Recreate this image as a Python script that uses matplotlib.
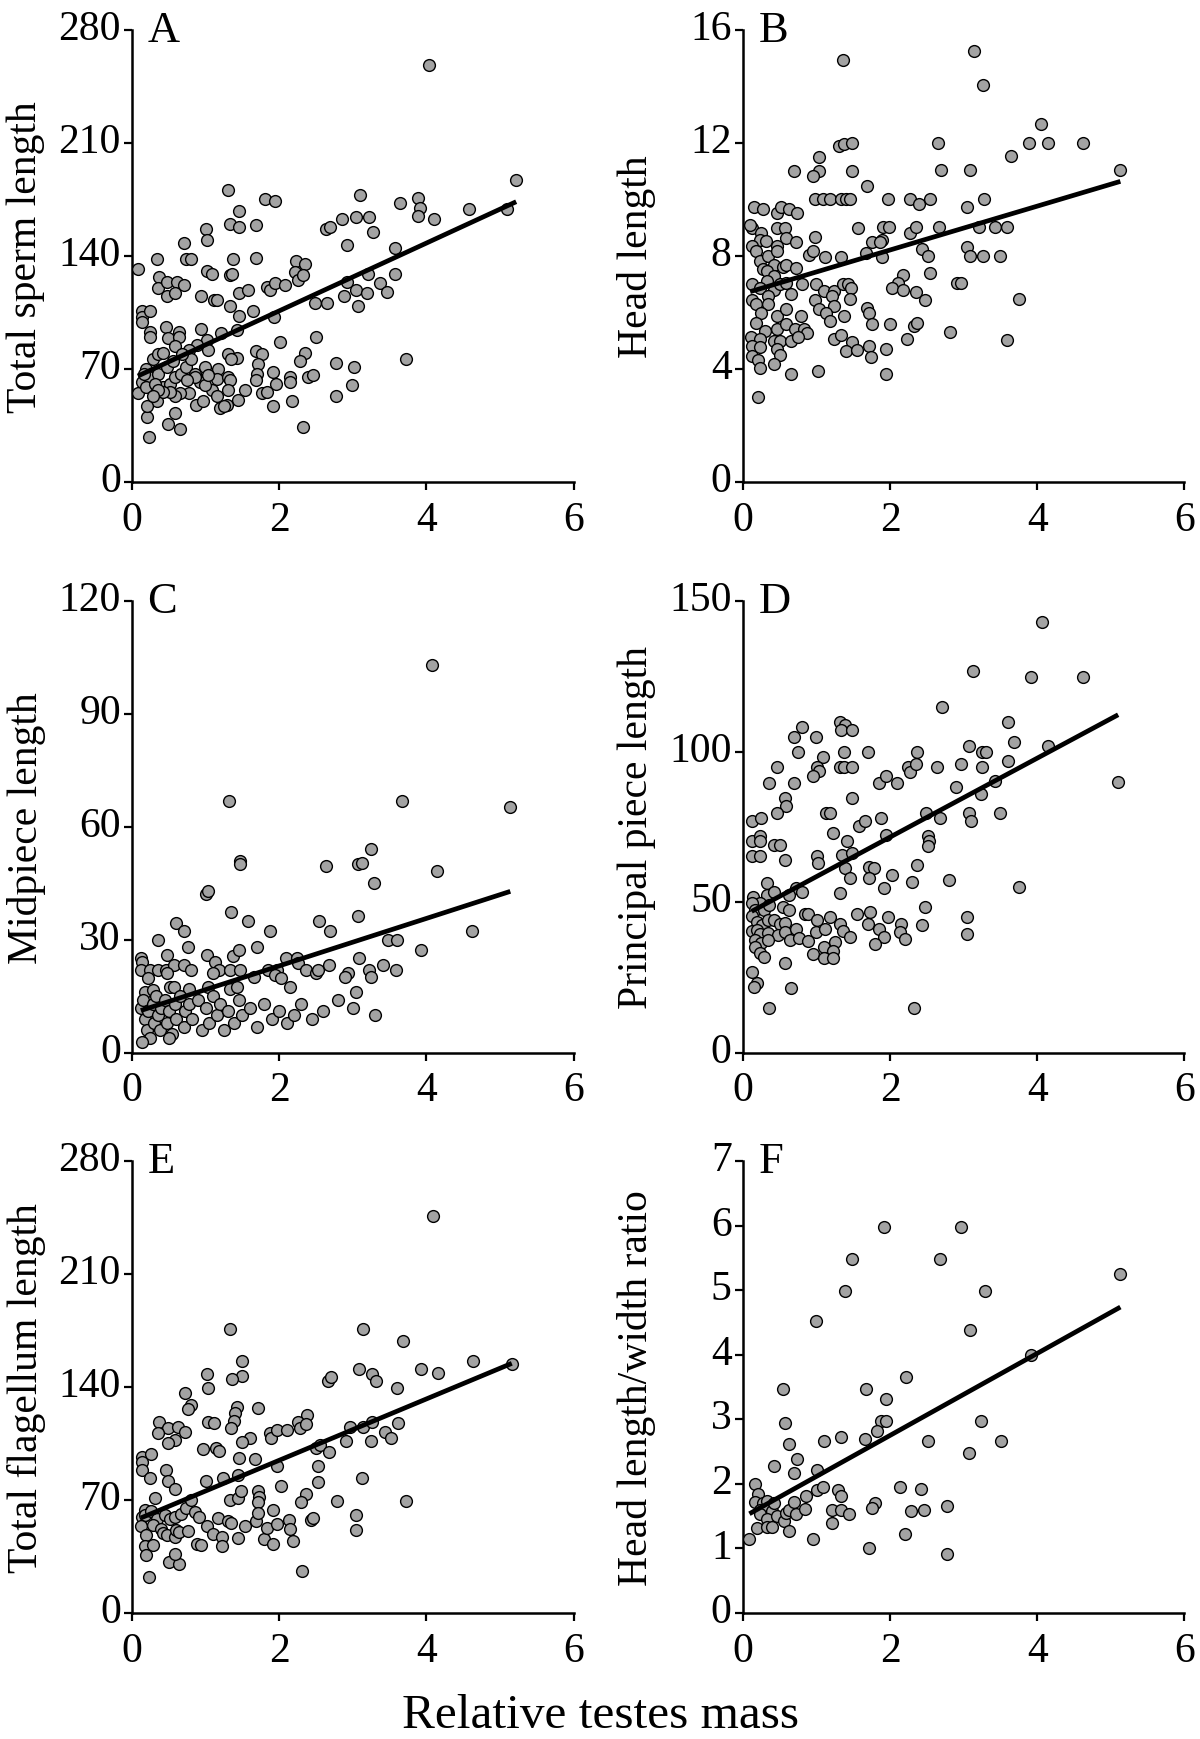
import matplotlib

matplotlib.use("Agg")
import matplotlib.pyplot as plt
import matplotlib.transforms as mtransforms
import numpy as np

# (relative testes mass, trait) pairs
a_pts = [
    (4.04, 258), (1.31, 181), (1.81, 175), (1.94, 174), (3.10, 178), (3.64, 173), (5.22, 187),
    (3.89, 176), (3.91, 170), (3.89, 165), (4.58, 169), (5.09, 169), (4.11, 163), (1.46, 168),
    (1.00, 157), (1.02, 150), (1.33, 160), (1.46, 158), (1.69, 159), (2.63, 157), (2.69, 158),
    (2.85, 163), (3.04, 164), (3.22, 164), (3.27, 155), (2.92, 147), (3.57, 145), (0.71, 148),
    (0.34, 138), (0.73, 138), (0.80, 138), (1.37, 138), (1.69, 139), (0.08, 132), (1.02, 131),
    (1.09, 129), (1.33, 128), (1.36, 129), (2.23, 137), (2.35, 135), (2.22, 130), (2.25, 125),
    (2.32, 128), (0.37, 127), (0.35, 120), (0.48, 124), (0.61, 124), (0.71, 122), (0.47, 115),
    (0.59, 117), (0.94, 115), (1.11, 113), (1.15, 113), (1.46, 117), (1.57, 119), (1.33, 109),
    (1.64, 106), (1.45, 103), (1.83, 121), (1.87, 119), (1.94, 123), (2.08, 122), (1.93, 102),
    (2.48, 111), (2.65, 111), (2.88, 115), (2.92, 124), (3.05, 119), (3.07, 109), (3.19, 117),
    (3.20, 129), (3.37, 123), (3.46, 118), (3.57, 129), (0.13, 106), (0.13, 102), (0.25, 106),
    (0.13, 99), (0.24, 93), (0.24, 90), (0.46, 96), (0.49, 89), (0.64, 93), (0.64, 90),
    (0.94, 95), (1.02, 88), (1.03, 82), (1.21, 92), (1.43, 94), (0.88, 85), (0.77, 82),
    (0.59, 84), (2.01, 87), (2.50, 90), (1.31, 79), (1.43, 77), (1.35, 76), (1.69, 81),
    (1.76, 79), (1.71, 73), (2.35, 80), (2.28, 75), (2.77, 74), (3.01, 71), (3.72, 76),
    (1.17, 70), (1.16, 64), (1.31, 65), (1.33, 63), (1.70, 67), (1.69, 63), (1.92, 68),
    (1.95, 61), (2.14, 65), (2.15, 62), (2.39, 65), (2.46, 66), (2.99, 60), (1.53, 57),
    (1.09, 57), (1.16, 53), (1.31, 57), (1.76, 55), (1.83, 56), (2.77, 53), (1.44, 51),
    (1.29, 48), (1.20, 46), (1.25, 47), (1.92, 47), (2.18, 50), (0.87, 48), (0.96, 50),
    (0.77, 55), (0.65, 55), (0.59, 53), (2.32, 34), (0.49, 36), (0.65, 33), (0.59, 43),
    (0.21, 40), (0.23, 28), (0.34, 50), (0.21, 47), (0.08, 55), (0.19, 70), (0.28, 76),
    (0.35, 79), (0.42, 80), (0.13, 62), (0.23, 65), (0.35, 67), (0.42, 59), (0.52, 61),
    (0.59, 65), (0.66, 67), (0.73, 71), (0.80, 76), (0.85, 67), (0.92, 62), (0.99, 60),
    (0.16, 67), (0.19, 59), (0.31, 61), (0.47, 71), (0.56, 75), (0.68, 79), (0.52, 56),
    (0.42, 56), (0.35, 57), (0.28, 53), (0.85, 65), (0.99, 71), (0.75, 63), (1.03, 66),
]
b_pts = [
    (3.14, 15.24), (3.26, 14.04), (4.05, 12.66), (2.65, 12.0), (3.89, 12.0), (4.15, 12.0),
    (4.62, 12.0), (3.65, 11.53), (2.69, 11.04), (3.09, 11.04), (5.13, 11.04), (1.97, 10.03),
    (2.27, 10.03), (2.39, 9.85), (2.55, 10.03), (3.04, 9.73), (3.28, 10.03), (1.90, 9.03),
    (1.98, 9.03), (2.27, 8.83), (2.35, 9.03), (2.67, 9.03), (3.21, 9.03), (3.42, 9.03),
    (3.59, 9.03), (1.89, 8.56), (2.43, 8.24), (2.52, 8.0), (3.04, 8.32), (3.09, 8.0),
    (3.26, 8.0), (3.50, 8.0), (1.89, 7.95), (2.18, 7.34), (2.11, 7.03), (2.03, 6.86),
    (2.18, 6.80), (2.35, 6.74), (2.48, 6.45), (2.55, 7.40), (2.91, 7.04), (2.96, 7.04),
    (3.75, 6.48), (2.00, 5.60), (2.32, 5.54), (2.37, 5.63), (2.23, 5.06), (2.81, 5.31),
    (3.59, 5.02), (1.94, 4.70), (1.94, 3.81),
    (1.36, 14.95), (1.31, 11.91), (1.38, 11.97), (1.48, 11.99), (1.03, 11.5), (0.69, 11.02),
    (1.03, 11.02), (0.96, 10.83), (1.48, 11.02), (1.69, 10.48), (0.98, 10.0), (1.09, 10.0),
    (1.19, 10.0), (1.33, 10.0), (1.40, 10.0), (1.45, 10.0), (0.15, 9.75), (0.28, 9.68),
    (0.46, 9.53), (0.52, 9.75), (0.63, 9.68), (0.74, 9.53), (0.13, 8.98), (0.10, 9.1),
    (0.47, 8.98), (0.57, 8.98), (1.57, 8.98), (0.25, 8.8), (0.23, 8.57), (0.59, 8.65),
    (0.72, 8.51), (0.98, 8.68), (0.13, 8.37), (0.18, 8.16), (0.23, 7.81), (0.32, 8.54),
    (0.34, 8.0), (0.47, 8.34), (0.47, 8.16), (0.42, 7.69), (0.54, 7.6), (0.59, 7.69),
    (0.72, 7.58), (0.90, 8.02), (0.96, 8.16), (1.12, 7.97), (1.34, 7.97), (1.67, 8.1),
    (1.76, 8.49), (1.86, 8.49), (0.27, 7.55), (0.33, 7.46), (0.42, 7.28), (0.33, 7.13),
    (0.13, 7.01), (0.23, 6.85), (0.42, 6.81), (0.51, 7.01), (0.59, 7.05), (0.65, 6.64),
    (0.80, 7.01), (1.00, 7.01), (1.10, 6.76), (1.24, 6.76), (1.36, 7.01), (1.43, 7.01),
    (1.47, 6.87), (1.46, 6.48), (0.12, 6.46), (0.18, 6.31), (0.34, 6.58), (0.34, 6.29),
    (0.25, 6.0), (0.98, 6.46), (1.03, 6.11), (1.21, 6.58), (1.24, 6.23), (0.18, 5.64),
    (0.30, 5.35), (0.47, 5.88), (0.59, 6.11), (0.79, 5.88), (1.13, 6.0), (1.19, 5.7),
    (1.38, 5.88), (1.69, 6.17), (1.72, 6.0), (1.76, 5.59), (0.47, 5.41), (0.59, 5.59),
    (0.71, 5.41), (0.83, 5.41), (0.87, 5.29), (0.11, 5.12), (0.23, 5.06), (0.42, 5.0),
    (0.51, 5.0), (0.65, 5.0), (0.75, 5.12), (1.24, 5.06), (1.33, 5.21), (0.13, 4.82),
    (0.23, 4.77), (0.47, 4.71), (0.50, 4.51), (1.48, 4.94), (1.40, 4.65), (1.55, 4.67),
    (1.72, 4.82), (1.74, 4.41), (0.13, 4.47), (0.20, 4.32), (0.24, 4.04), (0.42, 4.16),
    (0.65, 3.81), (1.02, 3.92), (0.21, 3.01),
]
c_pts = [
    (4.07, 103.1), (1.32, 67.0), (3.67, 67.0), (5.14, 65.2), (3.25, 54.1), (1.47, 51.0),
    (1.47, 50.1), (2.64, 49.6), (3.07, 50.1), (3.13, 50.5), (4.15, 48.3), (3.29, 45.2),
    (1.01, 42.2), (1.03, 43.1), (1.34, 37.3), (1.57, 34.9), (2.54, 34.9), (3.07, 36.3),
    (0.60, 34.5), (0.71, 32.3), (1.87, 32.3), (2.69, 32.3), (4.62, 32.3), (0.35, 30.0),
    (3.48, 30.0), (3.60, 30.0), (0.76, 28.2), (1.70, 28.2), (3.92, 27.4), (0.12, 25.1),
    (0.13, 24.2), (0.47, 26.0), (1.02, 26.0), (1.37, 25.6), (1.45, 27.4), (1.13, 24.2),
    (2.09, 25.1), (2.24, 25.1), (3.09, 25.1), (0.12, 22.0), (0.24, 22.0), (0.36, 22.0),
    (0.46, 22.0), (0.57, 23.3), (0.70, 23.3), (0.80, 22.0), (1.18, 22.0), (1.33, 22.0),
    (1.47, 22.0), (1.85, 22.0), (1.97, 22.0), (2.25, 23.8), (2.37, 22.0), (2.50, 21.1),
    (2.53, 22.0), (2.67, 23.3), (2.94, 21.1), (2.89, 20.2), (3.22, 22.0), (3.25, 20.2),
    (3.41, 23.3), (3.59, 22.0), (0.22, 19.8), (0.47, 21.1), (1.10, 21.1), (1.66, 20.2),
    (1.94, 20.7), (2.03, 19.8), (2.14, 17.6), (0.52, 17.6), (0.57, 17.6), (0.78, 17.1),
    (1.03, 17.6), (1.33, 17.1), (1.42, 17.6), (0.18, 16.2), (0.28, 16.7), (3.04, 16.2),
    (0.12, 12.0), (0.15, 14.0), (0.18, 9.0), (0.20, 6.0), (0.22, 11.0), (0.25, 4.0),
    (0.28, 13.0), (0.30, 8.0), (0.32, 15.0), (0.35, 10.0), (0.38, 6.0), (0.40, 12.0),
    (0.45, 14.0), (0.48, 8.0), (0.50, 11.0), (0.55, 5.0), (0.58, 13.0), (0.60, 9.0),
    (0.65, 15.0), (0.70, 7.0), (0.72, 11.0), (0.78, 13.0), (0.82, 9.0), (0.90, 14.0),
    (0.95, 6.0), (1.00, 12.0), (1.05, 8.0), (1.10, 15.0), (1.15, 10.0), (1.20, 13.0),
    (1.25, 6.0), (1.30, 11.0), (1.38, 8.0), (1.45, 14.0), (1.50, 10.0), (1.60, 12.0),
    (1.70, 7.0), (1.80, 13.0), (1.90, 9.0), (2.00, 11.0), (2.10, 8.0), (2.20, 10.0),
    (2.30, 13.0), (2.45, 9.0), (2.60, 11.0), (2.80, 14.0), (3.00, 12.0), (3.30, 10.0),
    (0.13, 3.0), (0.50, 4.0),
]
d_pts = [
    (4.07, 143.0), (3.13, 126.6), (3.92, 124.9), (4.62, 124.9), (2.70, 114.8), (1.32, 109.8),
    (1.39, 108.7), (1.34, 107.0), (1.48, 107.0), (0.80, 108.1), (0.70, 104.8), (1.00, 104.8),
    (3.60, 109.8), (3.08, 102.0), (3.25, 99.8), (3.31, 99.8), (3.68, 103.1), (4.14, 102.0),
    (0.75, 99.8), (1.38, 99.8), (1.70, 99.8), (2.37, 99.8), (1.09, 98.1), (3.60, 97.0),
    (0.47, 94.8), (1.01, 94.8), (1.03, 93.6), (1.32, 94.8), (1.38, 94.8), (1.48, 94.8),
    (2.25, 94.8), (2.27, 93.1), (2.36, 95.9), (2.64, 94.8), (2.96, 95.9), (3.25, 94.8),
    (0.95, 91.9), (0.35, 89.7), (0.70, 89.7), (1.85, 89.7), (1.95, 92.0), (2.09, 89.7),
    (3.42, 90.3), (2.90, 88.1), (3.24, 85.8), (0.58, 84.7), (0.59, 81.9), (1.48, 84.7),
    (0.47, 79.7), (1.13, 79.7), (1.18, 79.7), (2.49, 79.7), (3.08, 79.7), (3.10, 76.9),
    (3.50, 79.7), (0.12, 76.9), (0.25, 78.0), (1.88, 78.0), (2.68, 78.0), (1.58, 75.2),
    (1.66, 76.9), (1.23, 73.0), (1.95, 72.4), (0.12, 70.2), (0.23, 71.9), (0.24, 70.2),
    (0.43, 69.1), (0.50, 69.1), (1.42, 70.2), (2.52, 71.9), (2.53, 70.2), (2.51, 68.5),
    (0.12, 65.2), (0.23, 65.2), (0.58, 64.1), (1.01, 65.2), (1.02, 62.9), (1.35, 65.7),
    (1.48, 66.3), (1.39, 61.5), (1.71, 61.8), (1.78, 61.3), (2.37, 62.4), (1.72, 57.9),
    (1.46, 57.9), (2.03, 59.0), (2.30, 56.8), (2.80, 57.4), (3.75, 55.1), (1.32, 52.9),
    (1.92, 54.6), (0.33, 56.3), (0.14, 51.8), (0.33, 52.3), (0.43, 53.5), (0.24, 49.6),
    (0.72, 54.6), (0.81, 53.5), (0.63, 52.3), (0.12, 49.6), (0.17, 47.5), (0.29, 47.5),
    (0.36, 49.0), (0.55, 48.4), (0.63, 47.5), (2.48, 48.4), (0.84, 46.2), (0.89, 46.2),
    (0.12, 45.3), (0.19, 43.6), (0.26, 42.5), (0.34, 44.2), (0.42, 44.0), (0.50, 42.9),
    (0.58, 43.1), (1.18, 45.1), (1.55, 46.2), (1.73, 46.8), (1.97, 45.1), (3.05, 45.1),
    (1.01, 44.0), (0.99, 40.0), (1.12, 41.1), (1.32, 42.9), (1.36, 40.6), (1.70, 42.9),
    (2.15, 42.9), (2.43, 42.3), (0.12, 40.6), (0.19, 40.8), (0.24, 39.5), (0.34, 39.7),
    (0.48, 39.0), (0.58, 40.0), (0.72, 41.2), (1.46, 38.4), (1.85, 41.2), (1.92, 38.4),
    (2.14, 40.1), (2.20, 37.8), (3.05, 39.5), (0.17, 37.5), (0.25, 36.6), (0.34, 37.5),
    (0.64, 37.5), (0.76, 38.1), (0.88, 37.3), (1.79, 36.2), (0.17, 35.3), (0.24, 33.3),
    (0.29, 31.9), (1.10, 35.0), (1.25, 36.7), (1.23, 33.9), (0.95, 32.8), (1.10, 31.6),
    (1.23, 31.6), (0.58, 30.0), (0.19, 23.2), (0.65, 21.5), (0.12, 27.0), (0.15, 22.0),
    (0.35, 15.0), (2.32, 15.0), (5.10, 90.0),
]
e_pts = [
    (4.09, 245.7), (1.33, 176.2), (3.14, 176.2), (3.68, 168.8), (1.49, 156.2), (4.63, 156.2),
    (5.16, 154.1), (3.08, 151.2), (3.93, 151.2), (4.16, 148.8), (3.26, 147.8), (3.31, 143.6),
    (1.02, 148.2), (1.03, 139.6), (1.49, 146.9), (1.36, 144.8), (2.66, 143.8), (2.71, 145.9),
    (3.60, 139.6), (0.72, 136.2), (0.80, 129.1), (0.76, 126.3), (1.42, 127.4), (1.40, 124.2),
    (1.38, 118.9), (1.34, 114.7), (1.71, 126.7), (2.38, 122.7), (2.25, 118.5), (2.28, 114.3),
    (2.36, 116.8), (0.37, 118.3), (0.49, 114.3), (0.62, 115.4), (0.72, 112.2), (0.36, 111.6),
    (1.03, 118.5), (1.11, 117.5), (3.14, 115.2), (3.26, 118.5), (3.61, 117.5), (1.87, 111.6),
    (1.89, 108.4), (1.97, 113.1), (2.11, 113.1), (2.96, 115.2), (3.44, 112.2), (3.52, 108.4),
    (0.59, 106.9), (0.49, 105.3), (1.60, 108.4), (1.49, 105.7), (3.25, 106.7), (2.91, 106.3),
    (2.50, 102.1), (2.56, 103.8), (2.68, 99.6), (0.96, 101.5), (1.14, 102.1), (1.18, 100.4),
    (0.13, 96.8), (0.14, 93.7), (0.13, 88.4), (0.26, 98.3), (1.46, 96.2), (1.67, 95.2),
    (1.97, 90.9), (2.53, 91.2), (0.46, 88.8), (0.24, 83.6), (1.23, 83.8), (1.44, 85.7),
    (3.12, 83.6), (2.53, 81.1), (2.78, 69.4), (3.72, 69.4), (0.49, 81.9), (0.58, 76.7),
    (1.01, 81.5), (2.02, 78.8), (2.36, 73.5), (2.30, 68.5), (0.31, 71.5), (0.17, 63.7),
    (0.13, 59.5), (0.18, 60.6), (0.26, 63.1), (0.34, 58.5), (0.45, 60.6), (0.52, 58.5),
    (0.58, 59.5), (0.66, 61.6), (0.74, 65.2), (0.80, 70.0), (0.86, 62.7), (0.91, 59.5),
    (0.12, 53.7), (0.19, 48.1), (0.29, 54.3), (0.39, 52.2), (0.42, 49.7), (0.47, 48.1),
    (0.58, 47.0), (0.60, 51.2), (0.64, 50.1), (0.76, 50.6), (0.18, 41.8), (0.28, 42.2),
    (0.19, 35.9), (0.50, 31.3), (0.64, 30.3), (0.58, 36.6), (0.23, 22.4), (0.88, 42.8),
    (0.94, 42.2), (1.02, 53.9), (1.10, 49.1), (1.22, 47.0), (1.22, 41.8), (1.17, 58.9),
    (1.31, 56.8), (1.34, 55.8), (1.33, 70.0), (1.44, 71.5), (1.48, 75.6), (1.44, 46.4),
    (1.54, 53.7), (1.69, 56.8), (1.71, 75.6), (1.73, 72.1), (1.71, 68.9), (1.71, 62.1),
    (1.80, 46.0), (1.83, 52.7), (1.91, 64.1), (1.91, 42.8), (1.97, 55.4), (2.13, 57.9),
    (2.15, 52.2), (2.19, 44.9), (2.43, 57.5), (2.46, 58.9), (2.31, 26.1), (3.04, 61.0),
    (3.04, 51.6),
]
f_pts = [
    (1.92, 5.97), (2.96, 5.97), (1.48, 5.48), (2.68, 5.48), (1.39, 4.99), (3.29, 4.99),
    (0.99, 4.52), (3.09, 4.38), (3.91, 4.0), (2.22, 3.66), (0.54, 3.47), (1.67, 3.47),
    (1.95, 3.31), (0.58, 2.95), (1.88, 2.98), (1.94, 2.98), (3.23, 2.98), (1.83, 2.82),
    (1.11, 2.67), (1.34, 2.72), (1.66, 2.70), (2.52, 2.67), (3.51, 2.67), (0.63, 2.61),
    (3.07, 2.48), (0.74, 2.38), (0.42, 2.27), (0.70, 2.17), (1.01, 2.21), (0.17, 2.0),
    (0.20, 1.85), (0.17, 1.72), (0.28, 1.71), (0.33, 1.73), (0.23, 1.60), (0.30, 1.60),
    (0.24, 1.53), (0.39, 1.58), (0.33, 1.45), (0.42, 1.71), (0.19, 1.31), (0.33, 1.33),
    (0.40, 1.33), (0.46, 1.50), (0.09, 1.15), (0.56, 1.43), (0.59, 1.55), (0.63, 1.60),
    (0.69, 1.72), (0.72, 1.53), (0.63, 1.27), (0.85, 1.61), (0.86, 1.81), (0.95, 1.14),
    (1.01, 1.91), (1.09, 1.95), (1.21, 1.40), (1.21, 1.59), (1.29, 1.90), (1.33, 1.81),
    (1.33, 1.60), (1.44, 1.53), (1.72, 1.0), (1.79, 1.71), (1.76, 1.63), (2.14, 1.95),
    (2.20, 1.22), (2.28, 1.58), (2.42, 1.92), (2.46, 1.60), (2.78, 1.66), (2.78, 0.92),
    (5.13, 5.25),
]

# fitted regression lines as drawn: (intercept, slope)
fits = {"A": (64.0, 21.0), "B": (6.66, 0.776), "C": (10.5, 6.3),
        "D": (45.4, 13.1), "E": (56.6, 19.0), "F": (1.48, 0.635)}

ylabels = {"A": "Total sperm length", "B": "Head length", "C": "Midpiece length",
           "D": "Principal piece length", "E": "Total flagellum length",
           "F": "Head length/width ratio"}
yticks = {"A": [0, 70, 140, 210, 280], "B": [0, 4, 8, 12, 16], "C": [0, 30, 60, 90, 120],
          "D": [0, 50, 100, 150], "E": [0, 70, 140, 210, 280], "F": [0, 1, 2, 3, 4, 5, 6, 7]}
xticks = [0, 2, 4, 6]
points = {"A": a_pts, "B": b_pts, "C": c_pts, "D": d_pts, "E": e_pts, "F": f_pts}

plt.rcParams["font.family"] = ["Liberation Serif", "DejaVu Serif"]


def draw_panel(fig, rect, key):
    ax = fig.add_axes(rect)
    pts = np.array(points[key])
    ax.scatter(pts[:, 0], pts[:, 1], s=72, facecolor="#a3a3a3", edgecolor="black",
               linewidth=1.0, zorder=3, clip_on=False)
    b0, b1 = fits[key]
    xs = np.array([pts[:, 0].min(), pts[:, 0].max()])
    ax.plot(xs, b0 + b1 * xs, color="black", linewidth=3.4, zorder=4, solid_capstyle="butt")

    ax.set_xlim(0, 6)
    ax.set_ylim(0, yticks[key][-1])
    ax.set_xticks(xticks)
    ax.set_yticks(yticks[key])
    for side in ("top", "right"):
        ax.spines[side].set_visible(False)
    for side in ("left", "bottom"):
        ax.spines[side].set_linewidth(1.8)
    ax.tick_params(direction="out", length=6, width=1.6, labelsize=30, pad=2)
    ax.tick_params(axis="x", pad=7)
    # tick labels in the original sit slightly above their ticks
    shift = mtransforms.ScaledTranslation(0, 4 / 72, fig.dpi_scale_trans)
    for lab in ax.get_yticklabels():
        lab.set_transform(lab.get_transform() + shift)

    ax.set_ylabel(ylabels[key], fontsize=30, va="center")
    ax.yaxis.set_label_coords(-0.24, 0.5)
    ax.text(0.035, 1.0, key, transform=ax.transAxes, fontsize=32, va="center", ha="left")
    return ax


def main():
    fig = plt.figure(figsize=(12, 17.4), dpi=100)
    lefts = [0.110, 0.619]
    bottoms = [0.7224, 0.3943, 0.0724]
    w, h = 0.368, 0.2598
    keys = [["A", "B"], ["C", "D"], ["E", "F"]]
    for r, row in enumerate(keys):
        for c, key in enumerate(row):
            draw_panel(fig, [lefts[c], bottoms[r], w, h], key)

    fig.text(0.5, 1 - 1716 / 1740, "Relative testes mass", fontsize=35.5, ha="center", va="center")
    fig.savefig("out.png", dpi=100, facecolor="white")


if __name__ == "__main__":
    main()
